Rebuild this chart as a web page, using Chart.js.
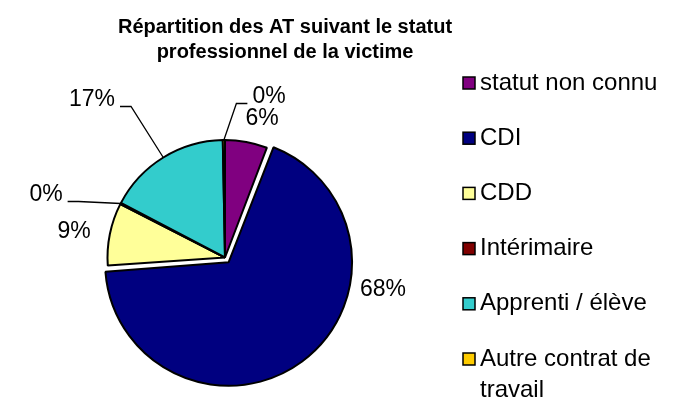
<!DOCTYPE html>
<html>
<head>
<meta charset="utf-8">
<script src="https://cdn.jsdelivr.net/npm/chart.js@4"></script>
<style>
	html, body { margin: 0; padding: 0; background: #fff; }
	#wrap { width: 685px; height: 400px; }
</style>
</head>
<body>
<div id="wrap"><canvas id="pie" width="685" height="400"></canvas></div>
<script>
"use strict";

const categories = ["statut non connu", "CDI", "CDD", "Intérimaire", "Apprenti / élève", "Autre contrat de travail"];
const shares = [5.8, 68.1, 8.6, 0.2, 17.0, 0.3];
const sliceColors = ["#800080", "#000080", "#FFFF99", "#800000", "#33CCCC", "#FFCC00"];
const titleLines = ["Répartition des AT suivant le statut", "professionnel de la victime"];

const FONT = "'Liberation Sans', Arial, Helvetica, sans-serif";

// where each percentage sits, relative to the pie centre; leader = draw a line to the slice
const labelSpots = [
	{ dx: 37, dy: -139, leader: false },
	{ dx: 158, dy: 32, leader: false },
	{ dx: -151, dy: -26, leader: false },
	{ dx: -179, dy: -63, leader: true },
	{ dx: -133, dy: -158, leader: true },
	{ dx: 44, dy: -161, leader: true },
];

function getPercent(values) {
	const total = values.reduce((a, b) => a + b, 0);
	return values.map((v) => Math.round((v / total) * 100) + "%");
}

const percentLabels = getPercent(shares);

const pieLabels = {
	id: "pieLabels",
	afterDatasetsDraw(chart) {
		const ctx = chart.ctx;
		const arcs = chart.getDatasetMeta(0).data;
		const cx = arcs[0].x,
			cy = arcs[0].y;
		ctx.save();
		ctx.font = "23px " + FONT;
		ctx.fillStyle = "#000";
		ctx.strokeStyle = "#000";
		ctx.lineWidth = 1.3;
		ctx.textAlign = "center";
		ctx.textBaseline = "middle";
		arcs.forEach((arc, i) => {
			const spot = labelSpots[i];
			const tx = cx + spot.dx,
				ty = cy + spot.dy;
			ctx.fillText(percentLabels[i], tx, ty);
			if (spot.leader) {
				const mid = (arc.startAngle + arc.endAngle) / 2;
				const ex = arc.x + Math.cos(mid) * arc.outerRadius;
				const ey = arc.y + Math.sin(mid) * arc.outerRadius;
				const w = ctx.measureText(percentLabels[i]).width;
				const side = ex > tx ? 1 : -1;
				const sx = tx + side * (w / 2 + 5);
				const sy = ty + 7;
				ctx.beginPath();
				ctx.moveTo(sx, sy);
				ctx.lineTo(sx + side * 11, sy);
				ctx.lineTo(ex, ey);
				ctx.stroke();
			}
		});
		ctx.restore();
	},
};

const sideLegend = {
	id: "sideLegend",
	afterDraw(chart) {
		const ctx = chart.ctx;
		ctx.save();
		// title
		ctx.font = "bold 20px " + FONT;
		ctx.fillStyle = "#000";
		ctx.textAlign = "center";
		ctx.textBaseline = "alphabetic";
		titleLines.forEach((line, i) => ctx.fillText(line, 285, 33 + i * 25));

		// legend
		ctx.font = "24px " + FONT;
		ctx.textAlign = "left";
		ctx.textBaseline = "middle";
		categories.forEach((name, i) => {
			const y = 83 + i * 55.2;
			ctx.fillStyle = sliceColors[i];
			ctx.fillRect(463, y - 6, 12, 12);
			ctx.strokeStyle = "#000";
			ctx.lineWidth = 1.5;
			ctx.strokeRect(463, y - 6, 12, 12);
			ctx.fillStyle = "#000";
			if (name === "Autre contrat de travail") {
				ctx.fillText("Autre contrat de", 480, y);
				ctx.fillText("travail", 480, y + 31);
			} else {
				ctx.fillText(name, 480, y);
			}
		});
		ctx.restore();
	},
};

new Chart(document.getElementById("pie"), {
	type: "pie",
	data: {
		labels: categories,
		datasets: [
			{
				data: shares,
				backgroundColor: sliceColors,
				borderColor: "#000",
				borderWidth: 2,
				// chart.js moves the slice by offset/4 and also grows it by offset/4
				offset: [0, 24, 0, 0, 0, 0],
				hoverOffset: 0,
			},
		],
	},
	options: {
		responsive: false,
		animation: false,
		events: [],
		radius: 117.5,
		layout: { padding: { left: 0, right: 235, top: 115, bottom: 0 } },
		plugins: {
			legend: { display: false },
			title: { display: false },
			tooltip: { enabled: false },
		},
	},
	plugins: [pieLabels, sideLegend],
});
</script>
</body>
</html>
